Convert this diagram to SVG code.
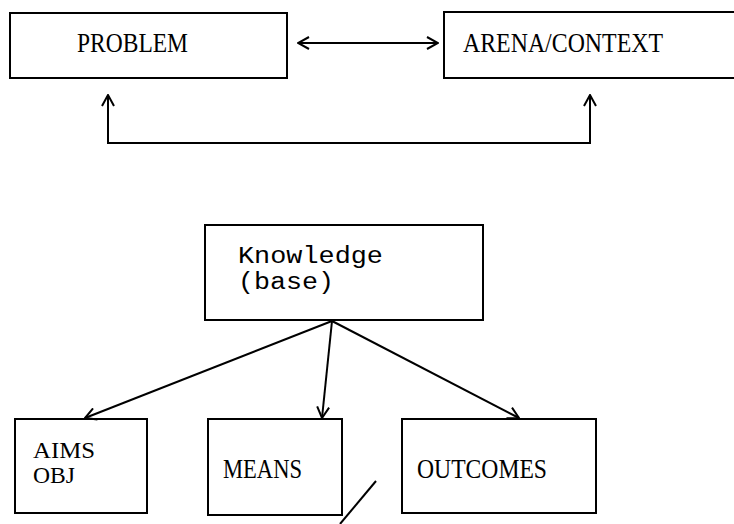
<svg xmlns="http://www.w3.org/2000/svg" width="734" height="524" viewBox="0 0 734 524">
  <defs>
    <marker id="arr" viewBox="0 0 14 14" refX="13" refY="7" markerWidth="14" markerHeight="14" markerUnits="userSpaceOnUse" orient="auto-start-reverse">
      <path d="M2,1 L13,7 L2,13" fill="none" stroke="#000" stroke-width="2"/>
    </marker>
  </defs>
  <style>
    .box { fill: none; stroke: #000; stroke-width: 2; }
    .serif { font-family: "Liberation Serif", "Times New Roman", serif; fill: #000; }
    .mono { font-family: "Liberation Mono", "Courier New", monospace; fill: #000; }
    .conn { fill: none; stroke: #000; stroke-width: 2; }
  </style>
  <rect width="734" height="524" fill="#fff"/>

  <g id="problem">
    <rect class="box" x="10" y="13" width="277" height="65"/>
    <text class="serif" x="77" y="52" font-size="27" textLength="111" lengthAdjust="spacingAndGlyphs">PROBLEM</text>
  </g>

  <g id="arena">
    <path class="box" d="M740,12 H444 V78 H740"/>
    <text class="serif" x="463" y="52" font-size="27" textLength="200" lengthAdjust="spacingAndGlyphs">ARENA/CONTEXT</text>
  </g>

  <g id="knowledge">
    <rect class="box" x="205" y="225" width="278" height="95"/>
    <text class="mono" x="238" y="263" font-size="23" textLength="145" lengthAdjust="spacingAndGlyphs">Knowledge</text>
    <text class="mono" x="238" y="289" font-size="23" textLength="96" lengthAdjust="spacingAndGlyphs">(base)</text>
  </g>

  <g id="aims">
    <rect class="box" x="15" y="419" width="132" height="94"/>
    <text class="serif" x="33" y="458" font-size="23" textLength="62" lengthAdjust="spacingAndGlyphs">AIMS</text>
    <text class="serif" x="33" y="483" font-size="23" textLength="42" lengthAdjust="spacingAndGlyphs">OBJ</text>
  </g>

  <g id="means">
    <rect class="box" x="208" y="419" width="134" height="96"/>
    <text class="serif" x="223" y="478" font-size="27" textLength="79" lengthAdjust="spacingAndGlyphs">MEANS</text>
  </g>

  <g id="outcomes">
    <rect class="box" x="402" y="419" width="194" height="94"/>
    <text class="serif" x="417" y="478" font-size="27" textLength="130" lengthAdjust="spacingAndGlyphs">OUTCOMES</text>
  </g>

  <g id="connectors">
    <line class="conn" x1="298" y1="43" x2="438" y2="43" marker-start="url(#arr)" marker-end="url(#arr)"/>
    <polyline class="conn" points="108,95 108,143 590,143 590,95" marker-start="url(#arr)" marker-end="url(#arr)"/>
    <line class="conn" x1="332" y1="321" x2="85" y2="418" marker-end="url(#arr)"/>
    <line class="conn" x1="332" y1="321" x2="322" y2="418" marker-end="url(#arr)"/>
    <line class="conn" x1="332" y1="321" x2="519" y2="418" marker-end="url(#arr)"/>
    <line class="conn" x1="376" y1="481" x2="340" y2="524"/>
  </g>
</svg>
